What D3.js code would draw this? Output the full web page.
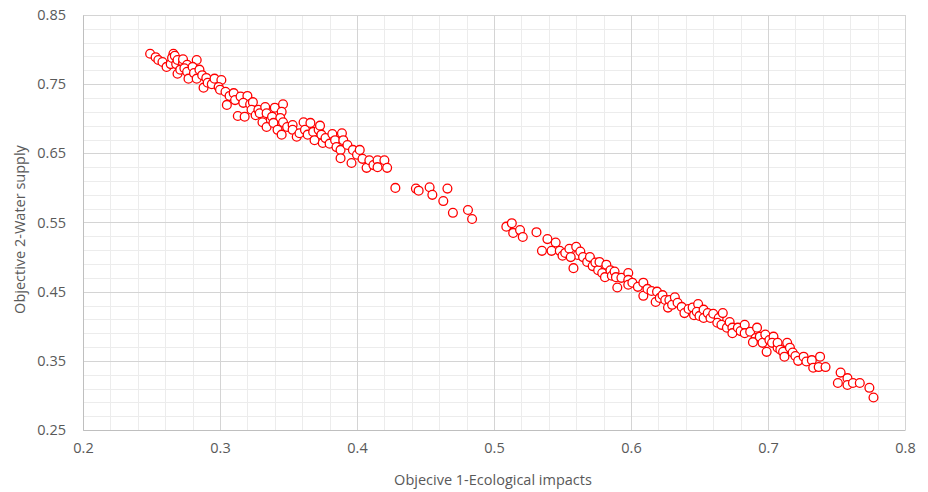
<!DOCTYPE html>
<html>
<head>
<meta charset="UTF-8">
<script src="https://d3js.org/d3.v7.min.js"></script>
<style>
  body { margin: 0; background: #fff; }
  svg { display: block; font-family: "Open Sans", sans-serif; }
</style>
</head>
<body>
<script>
  // [objective 1, objective 2] pairs
  const upperCluster = [
    [0.249,0.794],[0.253,0.789],[0.255,0.785],[0.258,0.782],[0.261,0.775],[0.264,0.779],
    [0.266,0.794],[0.265,0.788],[0.267,0.791],[0.268,0.779],[0.269,0.785],[0.273,0.781],
    [0.273,0.786],[0.276,0.778],[0.283,0.785],[0.269,0.765],[0.271,0.771],[0.274,0.773],
    [0.276,0.768],[0.277,0.758],[0.280,0.775],[0.281,0.766],[0.283,0.758],[0.285,0.771],
    [0.287,0.763],[0.288,0.745],[0.290,0.759],[0.291,0.752],[0.294,0.750],[0.296,0.758],
    [0.301,0.756],[0.299,0.746],[0.300,0.742],[0.304,0.739],[0.307,0.733],[0.305,0.720],
    [0.310,0.737],[0.311,0.727],[0.315,0.732],[0.320,0.733],[0.317,0.723],[0.322,0.721],
    [0.324,0.724],[0.323,0.713],[0.313,0.704],[0.318,0.703],[0.326,0.705],[0.328,0.713],
    [0.329,0.708],[0.333,0.717],[0.334,0.708],[0.337,0.698],[0.338,0.703],[0.340,0.716],
    [0.346,0.721],[0.345,0.710],[0.344,0.701],[0.331,0.695],[0.334,0.688],[0.339,0.694],
    [0.342,0.684],[0.346,0.695],[0.345,0.677],[0.349,0.688],[0.353,0.691],[0.353,0.684],
    [0.356,0.674],[0.358,0.679],[0.361,0.695],[0.362,0.684],[0.364,0.677],[0.366,0.694],
    [0.368,0.681],[0.369,0.669],[0.372,0.684],[0.373,0.690],[0.374,0.677],[0.375,0.665],
    [0.377,0.672],[0.380,0.664],[0.382,0.678],[0.384,0.669],[0.385,0.659],[0.389,0.679],
    [0.390,0.669],[0.388,0.655],[0.388,0.643],[0.393,0.662],[0.397,0.655],[0.396,0.636],
    [0.400,0.648],[0.402,0.655],[0.404,0.642],[0.407,0.629],[0.409,0.640],[0.412,0.633],
    [0.415,0.640],[0.415,0.630],[0.420,0.640],[0.422,0.629]
  ];
  const gapPoints = [
    [0.428,0.600],[0.443,0.599],[0.445,0.596],[0.453,0.601],[0.455,0.590],[0.466,0.599],
    [0.463,0.581],[0.470,0.564],[0.481,0.568],[0.484,0.555]
  ];
  const lowerCluster = [
    [0.509,0.544],[0.513,0.549],[0.514,0.535],[0.519,0.539],[0.521,0.529],[0.531,0.536],
    [0.539,0.526],[0.545,0.521],[0.535,0.509],[0.542,0.509],[0.548,0.509],[0.550,0.502],
    [0.552,0.506],[0.555,0.512],[0.560,0.515],[0.561,0.503],[0.558,0.484],[0.556,0.500],
    [0.563,0.508],[0.565,0.500],[0.568,0.493],[0.570,0.500],[0.572,0.487],[0.574,0.492],
    [0.576,0.481],[0.577,0.493],[0.579,0.477],[0.582,0.489],[0.581,0.471],[0.585,0.481],
    [0.586,0.473],[0.588,0.479],[0.589,0.471],[0.590,0.456],[0.593,0.470],[0.598,0.477],
    [0.598,0.467],[0.598,0.460],[0.601,0.463],[0.605,0.457],[0.609,0.463],[0.609,0.444],
    [0.612,0.454],[0.615,0.451],[0.619,0.450],[0.618,0.435],[0.621,0.441],[0.623,0.445],
    [0.625,0.438],[0.628,0.438],[0.627,0.427],[0.630,0.431],[0.632,0.442],[0.634,0.434],
    [0.637,0.428],[0.639,0.419],[0.642,0.425],[0.645,0.427],[0.646,0.416],[0.649,0.432],
    [0.648,0.421],[0.650,0.415],[0.653,0.424],[0.653,0.412],[0.656,0.419],[0.658,0.412],
    [0.660,0.418],[0.664,0.412],[0.667,0.419],[0.663,0.405],[0.666,0.402],[0.670,0.398],
    [0.672,0.406],[0.674,0.398],[0.674,0.390],[0.678,0.398],[0.680,0.393],[0.683,0.402],
    [0.683,0.390],[0.687,0.392],[0.691,0.383],[0.692,0.398],[0.689,0.377],[0.694,0.385],
    [0.696,0.376],[0.699,0.363],[0.698,0.388],[0.701,0.380],[0.704,0.385],[0.703,0.376],
    [0.707,0.369],[0.707,0.376],[0.709,0.366],[0.711,0.363],[0.714,0.376],[0.716,0.369],
    [0.712,0.356],[0.718,0.362],[0.720,0.357],[0.722,0.350],[0.726,0.356],[0.728,0.349],
    [0.732,0.351],[0.733,0.340],[0.738,0.356],[0.737,0.341],[0.742,0.341],[0.753,0.333],
    [0.751,0.318],[0.758,0.325],[0.758,0.315],[0.762,0.318],[0.767,0.318],[0.774,0.311],
    [0.777,0.297]
  ];
  const xTicks = [0.2, 0.3, 0.4, 0.5, 0.6, 0.7, 0.8];
  const yTicks = [0.25, 0.35, 0.45, 0.55, 0.65, 0.75, 0.85];
  const xTitle = "Objecive 1-Ecological impacts";
  const yTitle = "Objective 2-Water supply";

  const W = 928, H = 492;
  const m = { top: 15, right: 23, bottom: 62, left: 83 };
  const pw = W - m.left - m.right, ph = H - m.top - m.bottom;

  const svg = d3.select("body").append("svg").attr("width", W).attr("height", H);
  const g = svg.append("g").attr("transform", `translate(${m.left},${m.top})`);

  const x = d3.scaleLinear().domain([0.2, 0.8]).range([0, pw]);
  const y = d3.scaleLinear().domain([0.25, 0.85]).range([ph, 0]);

  // minor grid every 0.02
  const xMinor = d3.range(0.2, 0.8001, 0.02);
  const yMinor = d3.range(0.25, 0.8501, 0.02);
  g.append("g").selectAll("line").data(xMinor).join("line")
    .attr("x1", d => Math.round(x(d)) + 0.5).attr("x2", d => Math.round(x(d)) + 0.5)
    .attr("y1", 0).attr("y2", ph).attr("stroke", "#ececec");
  g.append("g").selectAll("line").data(yMinor).join("line")
    .attr("y1", d => Math.round(y(d)) + 0.5).attr("y2", d => Math.round(y(d)) + 0.5)
    .attr("x1", 0).attr("x2", pw).attr("stroke", "#ececec");

  // major grid
  g.append("g").selectAll("line").data(xTicks).join("line")
    .attr("x1", d => Math.round(x(d)) + 0.5).attr("x2", d => Math.round(x(d)) + 0.5)
    .attr("y1", 0).attr("y2", ph).attr("stroke", "#d4d4d4");
  g.append("g").selectAll("line").data(yTicks).join("line")
    .attr("y1", d => Math.round(y(d)) + 0.5).attr("y2", d => Math.round(y(d)) + 0.5)
    .attr("x1", 0).attr("x2", pw).attr("stroke", "#d4d4d4");

  // axes
  const xAxis = g.append("g").attr("transform", `translate(0,${ph})`)
    .call(d3.axisBottom(x).tickValues(xTicks).tickSize(0).tickPadding(13).tickFormat(d3.format("")));
  const yAxis = g.append("g")
    .call(d3.axisLeft(y).tickValues(yTicks).tickSize(0).tickPadding(17).tickFormat(d3.format("")));
  [xAxis, yAxis].forEach(a => {
    a.select(".domain").attr("stroke", "#bfbfbf").attr("stroke-width", 1);
    a.selectAll("text").attr("fill", "#595959").style("font-size", "14.5px")
      .style("font-family", "'Open Sans', sans-serif");
  });

  // points
  const allPoints = upperCluster.concat(gapPoints, lowerCluster);
  g.append("g").selectAll("circle").data(allPoints).join("circle")
    .attr("cx", d => x(d[0])).attr("cy", d => y(d[1]))
    .attr("r", 4.4)
    .attr("fill", "#fff")
    .attr("stroke", "#ff0000")
    .attr("stroke-width", 1.3);

  // titles
  svg.append("text").attr("x", m.left + pw * 0.5 - 1).attr("y", 485)
    .attr("text-anchor", "middle").attr("fill", "#595959").style("font-size", "14.5px")
    .text(xTitle);
  svg.append("text").attr("transform", `translate(25,${m.top + ph / 2 + 7}) rotate(-90)`)
    .attr("text-anchor", "middle").attr("fill", "#595959").style("font-size", "14.5px")
    .text(yTitle);
</script>
</body>
</html>
